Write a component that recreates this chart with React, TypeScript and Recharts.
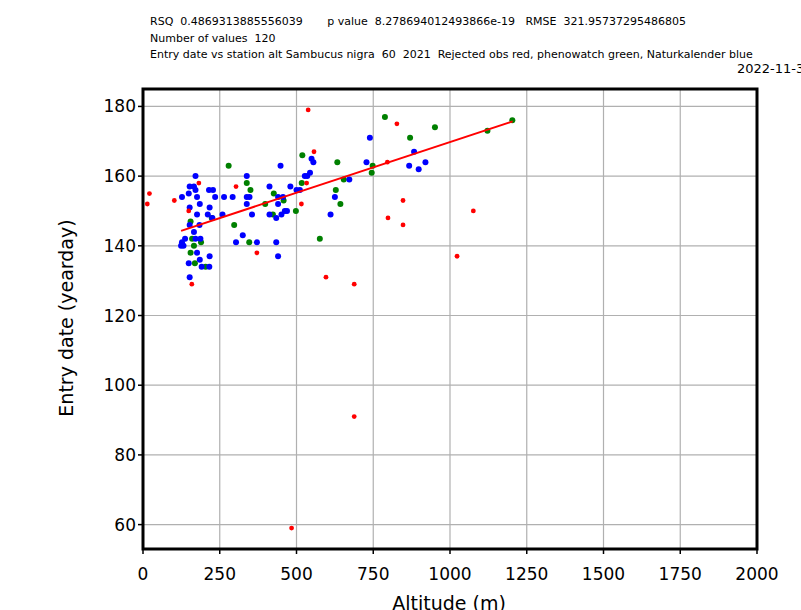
import React from 'react'
import {
  ScatterChart, Scatter, XAxis, YAxis, CartesianGrid, ReferenceArea,
} from 'recharts'

// ── Data ─────────────────────────────────────────────────────────────────────

// [altitude (m), entry yearday]
const rejectedObs: [number, number][] = [
  [14, 152], [21, 155], [102, 153], [149, 150], [159, 129], [182, 158], [303, 157],
  [371, 138], [484, 59], [516, 152], [533, 158], [538, 179], [557, 167], [596, 131],
  [688, 129], [688, 91], [796, 164], [798, 148], [827, 175], [847, 153], [847, 146],
  [1023, 137], [1076, 150],
]

const phenowatch: [number, number][] = [
  [155, 147], [155, 138], [160, 142], [166, 140], [169, 135], [189, 141], [204, 134],
  [224, 148], [279, 163], [297, 146], [338, 158], [346, 141], [350, 156], [398, 152],
  [423, 149], [426, 155], [458, 153], [498, 150], [517, 158], [519, 166], [576, 142],
  [628, 156], [633, 164], [643, 152], [654, 159], [745, 161], [748, 163], [788, 177],
  [870, 171], [951, 174], [1122, 173], [1203, 176],
]

const naturkalender: [number, number][] = [
  [124, 140], [127, 141], [127, 154], [132, 140], [137, 142], [149, 135], [149, 155],
  [152, 131], [152, 146], [152, 151], [152, 157], [166, 144], [166, 157], [171, 142],
  [171, 156], [171, 160], [176, 138], [176, 149], [176, 154], [184, 146], [185, 136],
  [185, 152], [187, 142], [191, 134], [211, 149], [215, 156], [216, 134], [217, 137],
  [217, 151], [226, 148], [228, 156], [235, 154], [259, 149], [264, 154], [292, 154],
  [303, 141], [325, 143], [338, 152], [338, 154], [338, 160], [347, 154], [355, 149],
  [371, 141], [412, 149], [412, 157], [434, 141], [434, 148], [440, 137], [440, 152],
  [440, 154], [448, 163], [451, 149], [456, 154], [462, 150], [469, 150], [480, 157],
  [500, 156], [511, 156], [527, 160], [535, 160], [544, 161], [549, 165], [555, 164],
  [611, 149], [625, 154], [672, 159], [728, 164], [739, 171], [867, 163], [883, 167],
  [898, 162], [920, 164],
]

// regression line end points
const fitLine: [number, number][] = [[124, 144.3], [1204, 175.7]]

const xTicks = [0, 250, 500, 750, 1000, 1250, 1500, 1750, 2000]
const yTicks = [60, 80, 100, 120, 140, 160, 180]

const headerLines = [
  'RSQ  0.4869313885556039       p value  8.278694012493866e-19   RMSE  321.95737295486805',
  'Number of values  120',
  'Entry date vs station alt Sambucus nigra  60  2021  Rejected obs red, phenowatch green, Naturkalender blue',
]
const dateLabel = '2022-11-30'

const toPoints = (arr: [number, number][]) => arr.map(([x, y]) => ({ x, y }))

const FONT = '"DejaVu Sans", sans-serif'

const dot = (fill: string, r: number) => (props: any) => (
  <circle cx={props.cx} cy={props.cy} r={r} fill={fill} />
)

export default function App() {
  return (
    <div style={{ position: 'relative', width: 801, height: 610, overflow: 'hidden', background: '#fff', fontFamily: FONT }}>
      <style>{'body{margin:0}'}</style>

      {headerLines.map((t, i) => (
        <div key={i} style={{
          position: 'absolute', left: 150, top: 15 + i * 16.5, fontSize: 11,
          whiteSpace: 'pre', lineHeight: '14px', color: '#000',
        }}>{t}</div>
      ))}
      <div style={{ position: 'absolute', left: 737, top: 61, fontSize: 13, whiteSpace: 'pre', color: '#000' }}>
        {dateLabel}
      </div>

      <ScatterChart width={801} height={610} margin={{ top: 89, right: 44, bottom: 31, left: 83 }}>
        <CartesianGrid stroke="#b0b0b0" strokeWidth={1.2} />
        <XAxis
          type="number" dataKey="x" domain={[0, 2000]} ticks={xTicks}
          height={30} tickSize={5} tickMargin={14}
          tick={{ fontSize: 17, fill: '#000', fontFamily: FONT }}
          tickLine={{ stroke: '#000', strokeWidth: 1.5 }}
          axisLine={false}
        />
        <YAxis
          type="number" dataKey="y" domain={[53, 185]} ticks={yTicks}
          width={60} tickSize={5}
          tick={{ fontSize: 17, fill: '#000', fontFamily: FONT }}
          tickLine={{ stroke: '#000', strokeWidth: 1.5 }}
          axisLine={false}
        />
        <Scatter data={toPoints(phenowatch)} shape={dot('#008000', 3)} isAnimationActive={false} />
        <Scatter data={toPoints(naturkalender)} shape={dot('#0000ff', 3)} isAnimationActive={false} />
        <Scatter data={toPoints(rejectedObs)} shape={dot('#ff0000', 2.4)} isAnimationActive={false} />
        <Scatter
          data={toPoints(fitLine)}
          line={{ stroke: '#ff0000', strokeWidth: 2 }}
          shape={() => <g />}
          isAnimationActive={false}
        />
        <ReferenceArea x1={0} x2={2000} y1={53} y2={185} fill="none" stroke="#000" strokeWidth={3} ifOverflow="visible" />
      </ScatterChart>

      <div style={{
        position: 'absolute', left: 66, top: 318, fontSize: 19, whiteSpace: 'pre',
        transform: 'translate(-50%, -50%) rotate(-90deg)', color: '#000',
      }}>Entry date (yearday)</div>
      <div style={{
        position: 'absolute', left: 449, top: 592, fontSize: 19, whiteSpace: 'pre',
        transform: 'translateX(-50%)', color: '#000', lineHeight: '22px',
      }}>Altitude (m)</div>
    </div>
  )
}
